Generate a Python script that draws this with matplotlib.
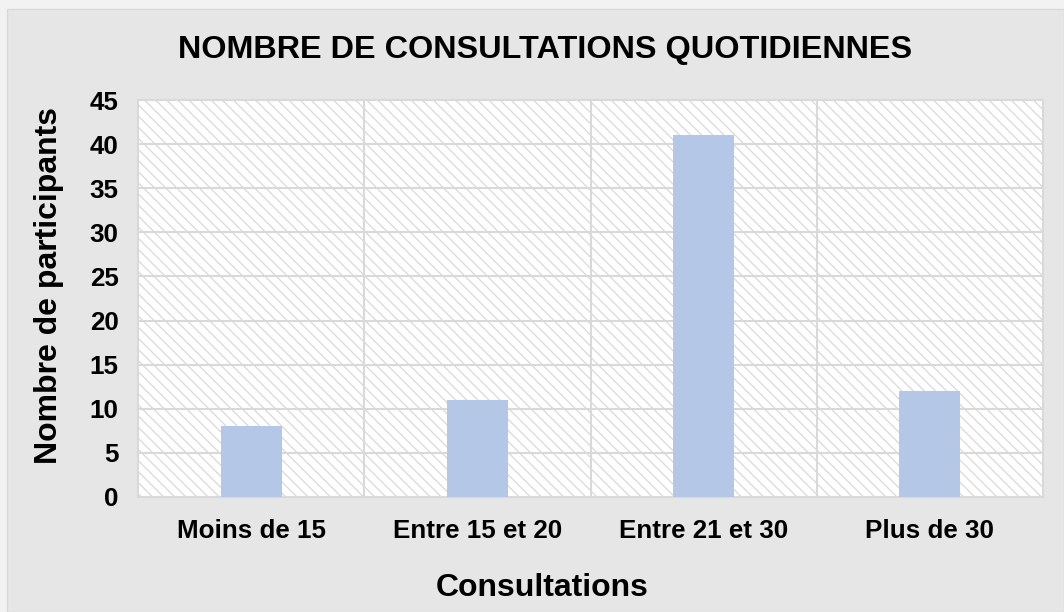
import matplotlib.pyplot as plt
from matplotlib.patches import Rectangle

categories = ['Moins de 15', 'Entre 15 et 20', 'Entre 21 et 30', 'Plus de 30']
participants = [8, 11, 41, 12]
y_ticks = [0, 5, 10, 15, 20, 25, 30, 35, 40, 45]

plt.rcParams['font.family'] = ['Liberation Sans', 'DejaVu Sans']
plt.rcParams['font.weight'] = 'bold'
plt.rcParams['hatch.linewidth'] = 0.9

W, H = 1064, 612
fig = plt.figure(figsize=(W / 100, H / 100), dpi=100, facecolor='#F2F2F2')

# chart area background with thin border
fig.patches.append(Rectangle((7 / W, 0), 1 - 7 / W, 1 - 9 / H, transform=fig.transFigure,
                             facecolor='#E6E6E6', edgecolor='#D9D9D9', lw=1, zorder=-5))

left, right, top, bottom = 138, 1043, 100, 497
ax = fig.add_axes([left / W, 1 - bottom / H, (right - left) / W, (bottom - top) / H])
ax.set_facecolor('white')

# hatched plot area
ax.add_patch(Rectangle((0, 0), 1, 1, transform=ax.transAxes, facecolor='white',
                       edgecolor='#D9D9D9', hatch='\\\\\\', lw=0, zorder=0))

x = range(len(categories))
ax.bar(x, participants, width=0.27, color='#B4C7E7', zorder=3)

ax.set_xlim(-0.5, len(categories) - 0.5)
ax.set_ylim(0, 45)
ax.set_yticks(y_ticks)
ax.set_xticks(list(x))
ax.set_xticklabels(categories)

for yv in y_ticks[1:]:
    ax.axhline(yv, color='#D9D9D9', lw=1.5, zorder=1)
for xv in [0.5, 1.5, 2.5]:
    ax.axvline(xv, color='#D9D9D9', lw=1.5, zorder=1)

for s in ax.spines.values():
    s.set_color('#D9D9D9')
    s.set_linewidth(1.5)

ax.tick_params(axis='both', length=0, labelsize=18.7, colors='black')
ax.tick_params(axis='y', pad=14)
ax.tick_params(axis='x', pad=16)

fig.text(542 / W, 1 - 588 / H, 'Consultations', ha='center', va='center',
         fontsize=23, fontweight='bold')
fig.text(49 / W, 1 - 285 / H, 'Nombre de participants', ha='center', va='center',
         rotation=90, fontsize=23, fontweight='bold')
fig.text(545.5 / W, 1 - 50 / H, 'NOMBRE DE CONSULTATIONS QUOTIDIENNES', ha='center', va='center',
         fontsize=23.3, fontweight='bold')

fig.savefig('out.png', dpi=100, facecolor=fig.get_facecolor())
